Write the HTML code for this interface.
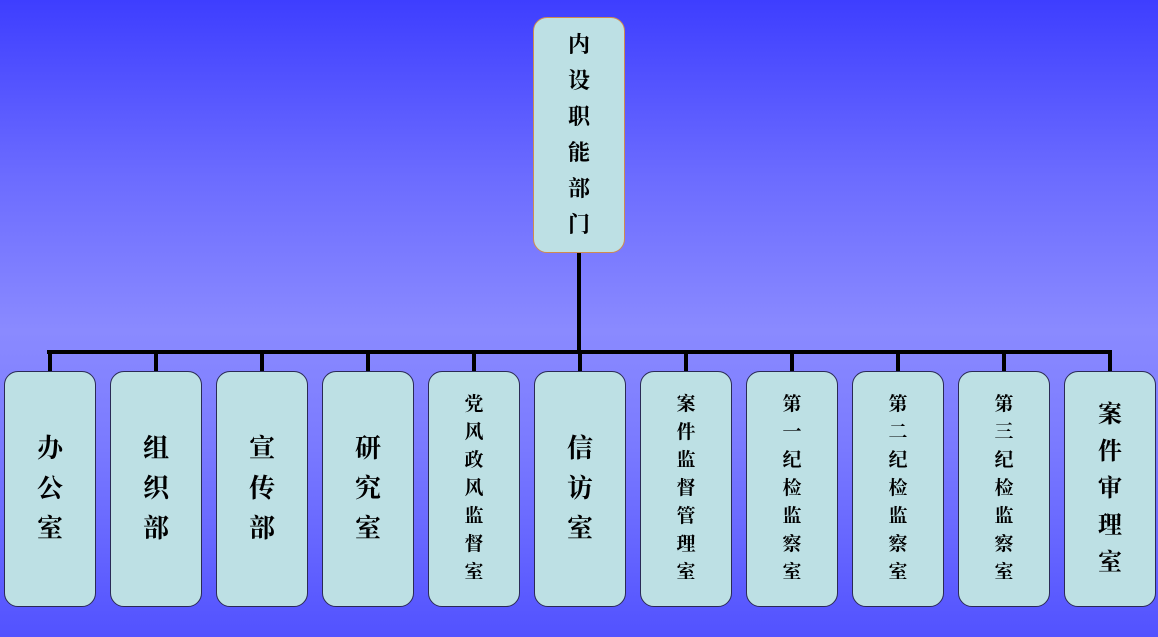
<!DOCTYPE html>
<html><head><meta charset="utf-8"><style>
html,body{margin:0;padding:0}
body{width:1158px;height:637px;position:relative;overflow:hidden;
background:linear-gradient(to bottom,#3e3eff 0%,#6c6cff 28%,#8a8aff 52%,#7a7aff 70%,#5252ff 100%);
font-family:"Liberation Serif","Noto Serif CJK SC",serif;font-weight:bold;color:#000}
.b{position:absolute;background:#bde0e4;border:1.5px solid #2a2a55;border-radius:14px;box-sizing:border-box;
display:flex;flex-direction:column;align-items:center;justify-content:center}
.b span{display:block;text-align:center}
.l{position:absolute;background:#000}
</style></head><body>
<div class="b" style="left:533px;top:17px;width:92px;height:236px;border-color:#d08a50;font-size:22px;line-height:36px"><span>内</span><span>设</span><span>职</span><span>能</span><span>部</span><span>门</span></div>
<div class="l" style="left:577px;top:253px;width:4px;height:100px"></div>
<div class="l" style="left:47px;top:350px;width:1065px;height:4px"></div>

<div id="c"></div>
<script>
var data=[["办公室",26,40],["组织部",26,40],["宣传部",26,40],["研究室",26,40],["党风政风监督室",19,28],["信访室",26,40],["案件监督管理室",19,28],["第一纪检监察室",19,28],["第二纪检监察室",19,28],["第三纪检监察室",19,28],["案件审理室",24,37]];
var h="";
data.forEach(function(d,i){
 var x=4+i*106;
 h+='<div class="l" style="left:'+(x+44)+'px;top:352px;width:4px;height:20px"></div>';
 h+='<div class="b" style="left:'+x+'px;top:371px;width:92px;height:236px;font-size:'+d[1]+'px;line-height:'+d[2]+'px">';
 for(var j=0;j<d[0].length;j++)h+='<span>'+d[0][j]+'</span>';
 h+='</div>';
});
document.getElementById("c").outerHTML=h;
</script>
</body></html>
